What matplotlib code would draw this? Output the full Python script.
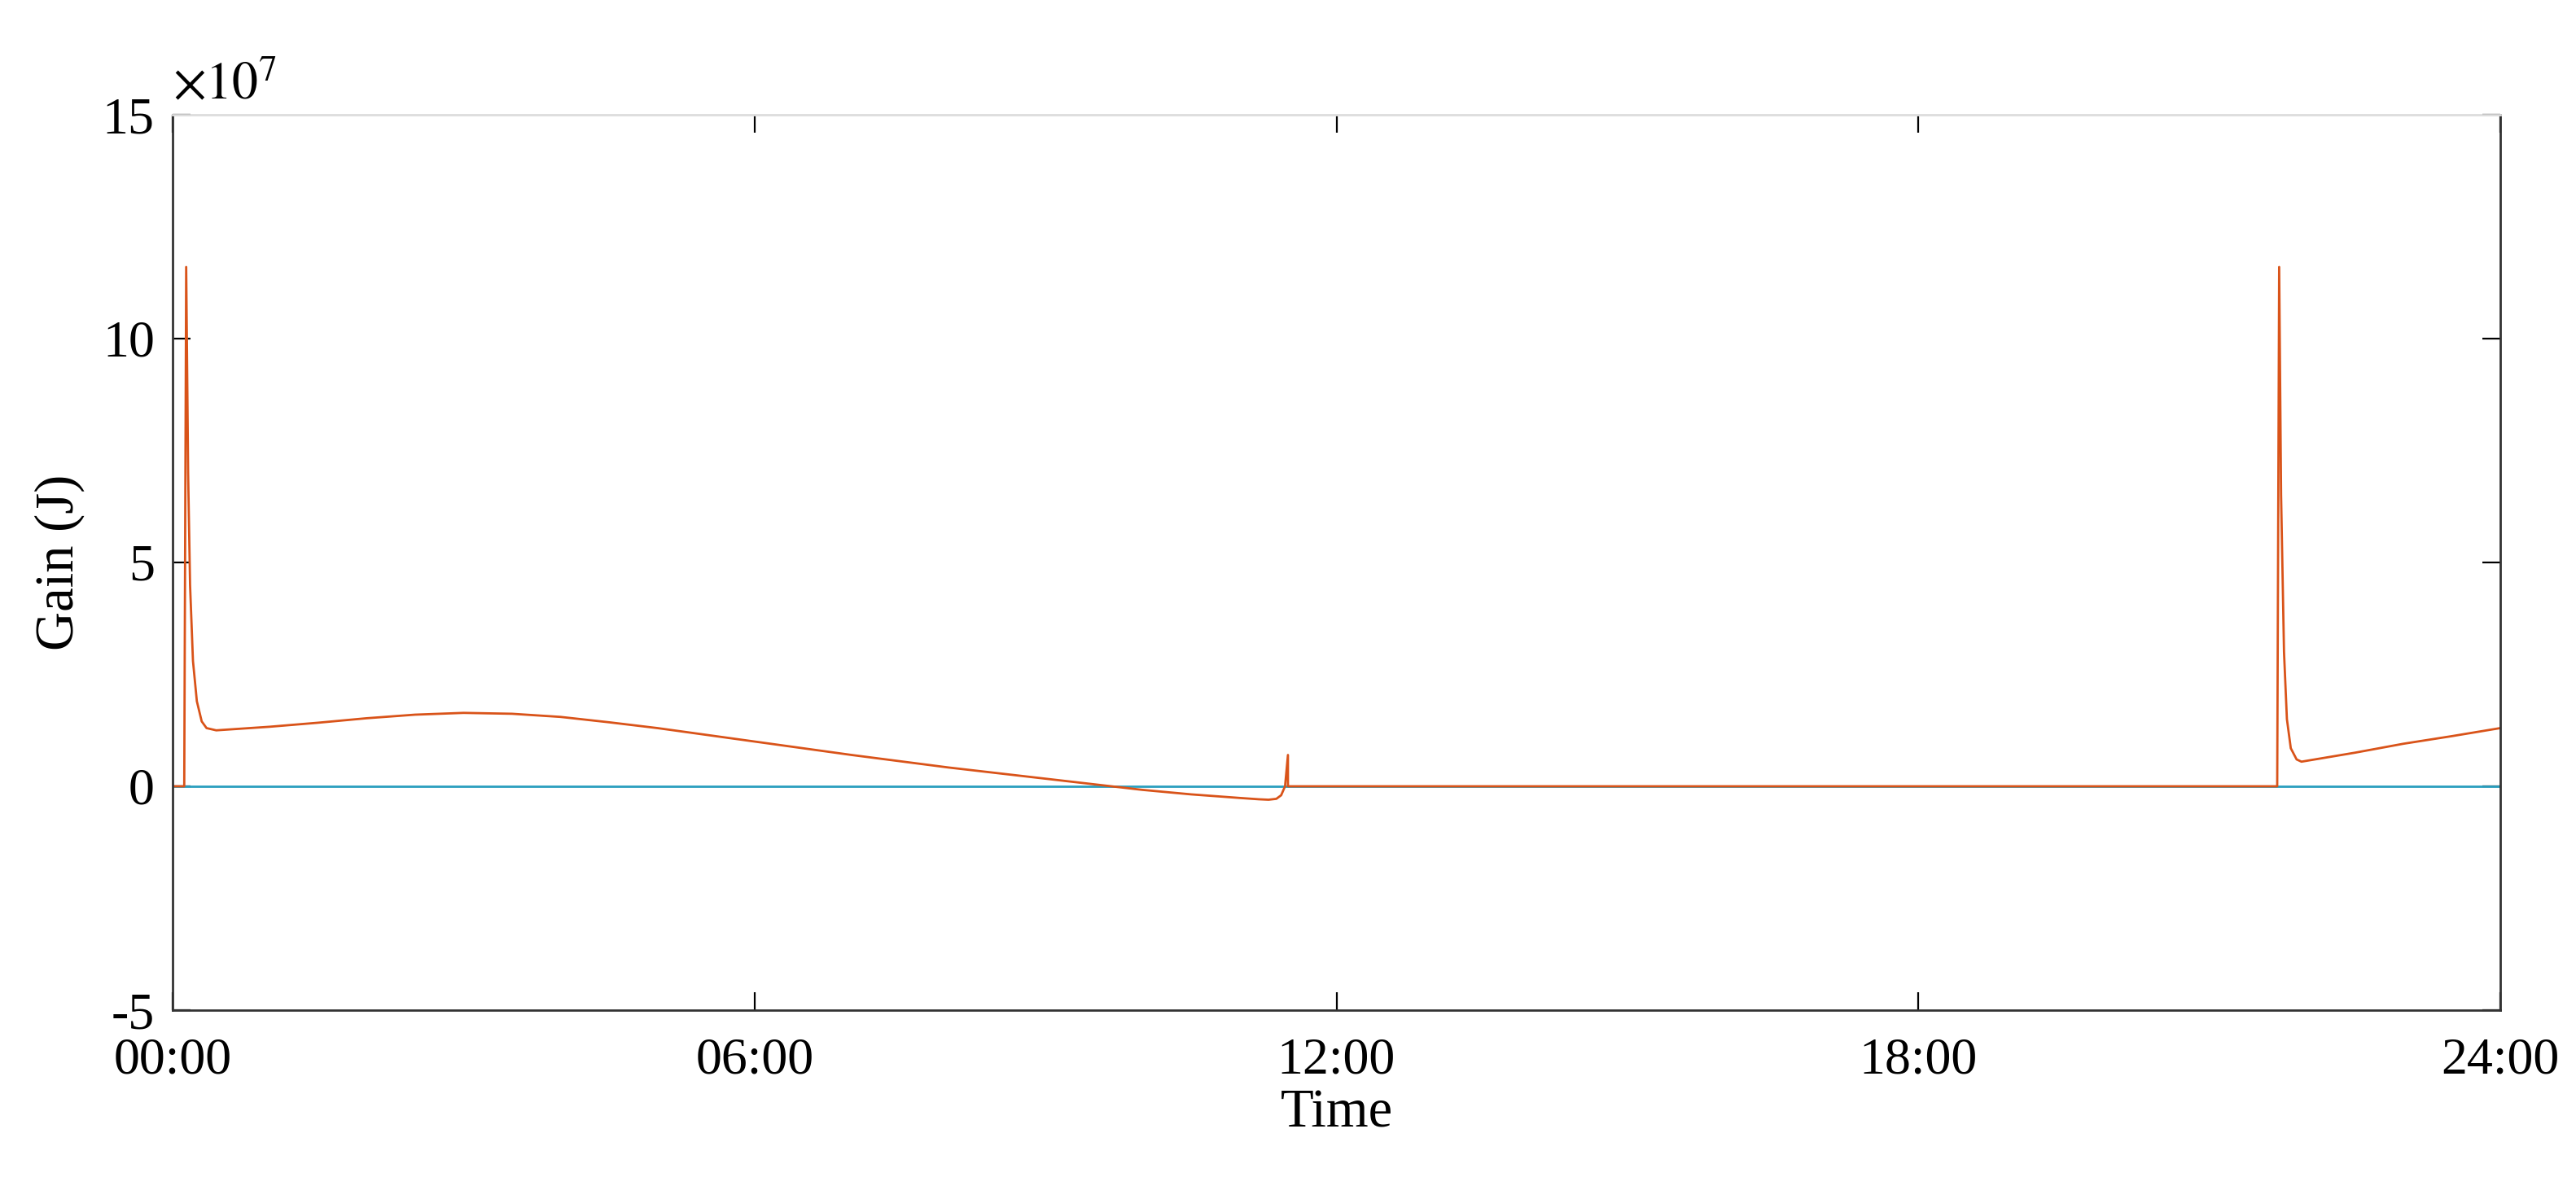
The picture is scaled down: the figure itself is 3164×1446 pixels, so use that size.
import matplotlib
matplotlib.use("Agg")
import matplotlib.pyplot as plt

plt.rcParams['font.family'] = ['Liberation Serif', 'DejaVu Serif']
plt.rcParams['mathtext.fontset'] = 'stix'

# Hours of day
gain_hours = [0.0, 0.12, 0.14, 0.16, 0.18, 0.21, 0.25, 0.3, 0.35, 0.45, 1.0, 1.5, 2.0, 2.5, 3.0,
              3.5, 4.0, 4.5, 5.0, 6.0, 7.0, 8.0, 9.0, 9.6, 10.0, 10.5, 11.0, 11.2, 11.3,
              11.38, 11.43, 11.47, 11.5, 11.5,
              21.68, 21.7, 21.72, 21.74, 21.77, 21.8, 21.84, 21.9, 21.95, 22.5, 23.0, 23.5, 24.0]
gain_values = [0.0, 0.0, 11.6e7, 7.0e7, 4.5e7, 2.8e7, 1.9e7, 1.45e7, 1.3e7, 1.25e7, 1.33e7, 1.42e7, 1.52e7, 1.6e7, 1.64e7,
               1.62e7, 1.55e7, 1.43e7, 1.3e7, 1.0e7, 0.7e7, 0.42e7, 0.17e7, 0.02e7, -0.08e7, -0.18e7, -0.26e7, -0.29e7, -0.3e7,
               -0.28e7, -0.2e7, 0.0, 0.7e7, 0.0,
               0.0, 0.0, 11.6e7, 6.5e7, 3.0e7, 1.5e7, 0.85e7, 0.6e7, 0.55e7, 0.75e7, 0.95e7, 1.12e7, 1.3e7]
base_hours = [0.0, 24.0]
base_values = [0.0, 0.0]

xtick_pos = [0, 6, 12, 18, 24]
xtick_labels = ['00:00', '06:00', '12:00', '18:00', '24:00']

fig = plt.figure(figsize=(15.82, 7.23), dpi=200)
ax = fig.add_axes([212 / 3164, 1 - 1241 / 1446, (3071 - 212) / 3164, (1241 - 141) / 1446])

ax.plot(base_hours, base_values, color='#2A9FBF', lw=1.0)
ax.plot(gain_hours, gain_values, color='#D95319', lw=1.0)

ax.set_xlim(0, 24)
ax.set_ylim(-5e7, 15e7)
ax.set_xticks(xtick_pos)
ax.set_xticklabels(xtick_labels)
ax.set_yticks([-5e7, 0, 5e7, 10e7, 15e7])
ax.set_yticklabels(['-5', '0', '5', '10', '15'])
ax.tick_params(direction='in', length=8, labelsize=23, top=True, right=True)
ax.tick_params(axis='x', pad=12)
ax.tick_params(axis='y', pad=8)
for s in ax.spines.values():
    s.set_color('#333333')
    s.set_linewidth(1.0)
ax.spines['top'].set_color('#dddddd')
ax.text(0.0, 1.005, r'$\times10^{7}$', transform=ax.transAxes, fontsize=23,
        ha='left', va='bottom')
ax.set_xlabel('Time', fontsize=24, labelpad=2)
ax.set_ylabel('Gain (J)', fontsize=24, labelpad=8)

fig.savefig('out.png', dpi=200)
